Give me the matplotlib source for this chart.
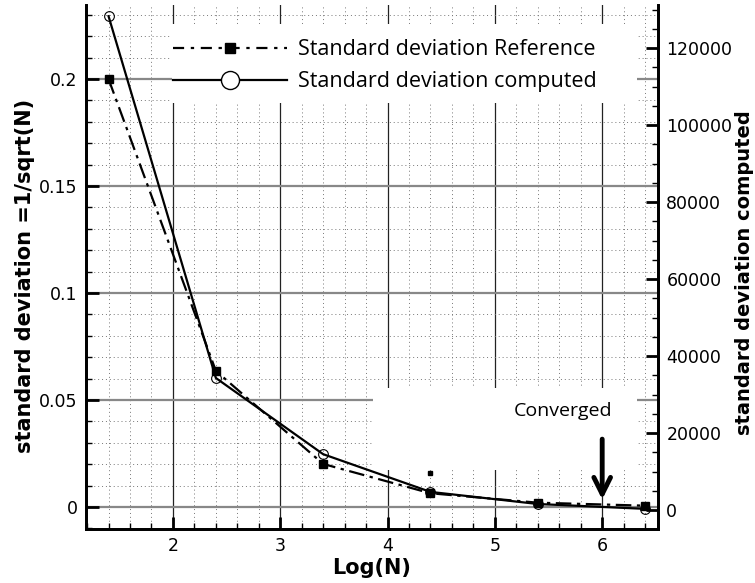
import matplotlib.pyplot as plt
from matplotlib.lines import Line2D
from matplotlib.patches import Rectangle
from matplotlib.ticker import MultipleLocator

# Data
log_n = [1.4, 2.4, 3.4, 4.4, 5.4, 6.4]
std_reference = [0.2, 0.0636, 0.0201, 0.0064, 0.002, 0.0006]
std_computed = [128300, 34300, 14500, 4700, 1560, 300]
stray_x = [4.4]
stray_y = [0.016]

label_ref = 'Standard deviation Reference'
label_comp = 'Standard deviation computed'
converged_x = 6.0

fig = plt.figure(figsize=(7.55, 5.83), dpi=100)
ax = fig.add_axes([86 / 755, 1 - 529 / 583, 572 / 755, 524 / 583])
ax2 = ax.twinx()

ax.set_xlim(1.19, 6.52)
ax.set_ylim(-0.0103, 0.2346)
ax2.set_ylim(-4935, 131200)

# grid
ax.xaxis.set_major_locator(MultipleLocator(1))
ax.xaxis.set_minor_locator(MultipleLocator(0.2))
ax.yaxis.set_major_locator(MultipleLocator(0.05))
ax.yaxis.set_minor_locator(MultipleLocator(0.01))
ax2.yaxis.set_major_locator(MultipleLocator(20000))
ax2.yaxis.set_minor_locator(MultipleLocator(5000))
ax.grid(True, which='minor', linestyle=(0, (1, 3)), linewidth=0.7, color='#777777')
ax.grid(True, which='major', axis='x', linestyle='-', linewidth=0.9, color='#222222')
ax.grid(True, which='major', axis='y', linestyle='-', linewidth=1.6, color='#888888')
ax.set_axisbelow(True)

# white boxes behind legend and annotation
ax.add_patch(Rectangle((0.150, 0.813), 0.813, 0.15, transform=ax.transAxes,
                       facecolor='white', edgecolor='none', zorder=1.5))
ax.add_patch(Rectangle((0.502, 0.1126), 0.461, 0.157, transform=ax.transAxes,
                       facecolor='white', edgecolor='none', zorder=1.5))

ax.plot(log_n, std_reference, color='black', linestyle=(0, (7, 2.5, 1.5, 2.5)),
        linewidth=1.6, marker='s', markersize=5.5, zorder=3)
ax.plot(stray_x, stray_y, linestyle='none', marker='s', markersize=3.5,
        color='black', zorder=3)
ax2.plot(log_n, std_computed, color='black', linestyle='-', linewidth=1.6,
         marker='o', markersize=7, markerfacecolor='none', markeredgewidth=0.8,
         zorder=3)

# spines and ticks
for a in (ax, ax2):
    a.spines['top'].set_visible(False)
    for s in ('left', 'right', 'bottom'):
        a.spines[s].set_linewidth(2)
ax.tick_params(which='major', direction='in', length=9, width=2, labelsize=12.5,
               pad=6, right=False)
ax.tick_params(which='minor', direction='in', length=4.5, width=1, right=False)
ax2.tick_params(which='major', direction='in', length=9, width=2, labelsize=12.5,
                pad=6)
ax2.tick_params(which='minor', direction='in', length=4.5, width=1)

ax.set_xticks([2, 3, 4, 5, 6])
ax.set_xticklabels(['2', '3', '4', '5', '6'])
ax.set_yticks([0, 0.05, 0.1, 0.15, 0.2])
ax.set_yticklabels(['0', '0.05', '0.1', '0.15', '0.2'])
ax2.set_yticks([0, 20000, 40000, 60000, 80000, 100000, 120000])

ax.set_xlabel('Log(N)', fontsize=15, fontweight='bold', labelpad=2)
ax.set_ylabel('standard deviation =1/sqrt(N)', fontsize=15, fontweight='bold')
ax2.set_ylabel('standard deviation computed', fontsize=14, fontweight='bold')
ax.yaxis.set_label_coords(-0.089, 0.482)
ax2.yaxis.set_label_coords(1.134, 0.49)

# legend
handles = [
    Line2D([], [], color='black', linestyle=(0, (5, 3, 1.5, 3)), linewidth=1.6,
           marker='s', markersize=7),
    Line2D([], [], color='black', linestyle='-', linewidth=1.6,
           marker='o', markersize=13, markerfacecolor='white', markeredgewidth=1),
]
leg = ax.legend(handles, [label_ref, label_comp], loc='upper left',
                bbox_to_anchor=(0.126, 0.963), frameon=False, handlelength=5.3,
                handletextpad=0.5, labelspacing=0.5, borderpad=0.2,
                prop={'family': 'Open Sans', 'size': 15.5})

# annotation
ax.annotate('', xy=(converged_x, 0.0022), xytext=(converged_x, 0.033),
            arrowprops=dict(arrowstyle='->,head_length=1.2,head_width=0.6',
                            color='black', linewidth=3.5), zorder=4)
ax.text(5.635, 0.045, 'Converged', ha='center', va='center', fontsize=14,
        family='Open Sans', zorder=4)

fig.savefig('out.png', dpi=100)
